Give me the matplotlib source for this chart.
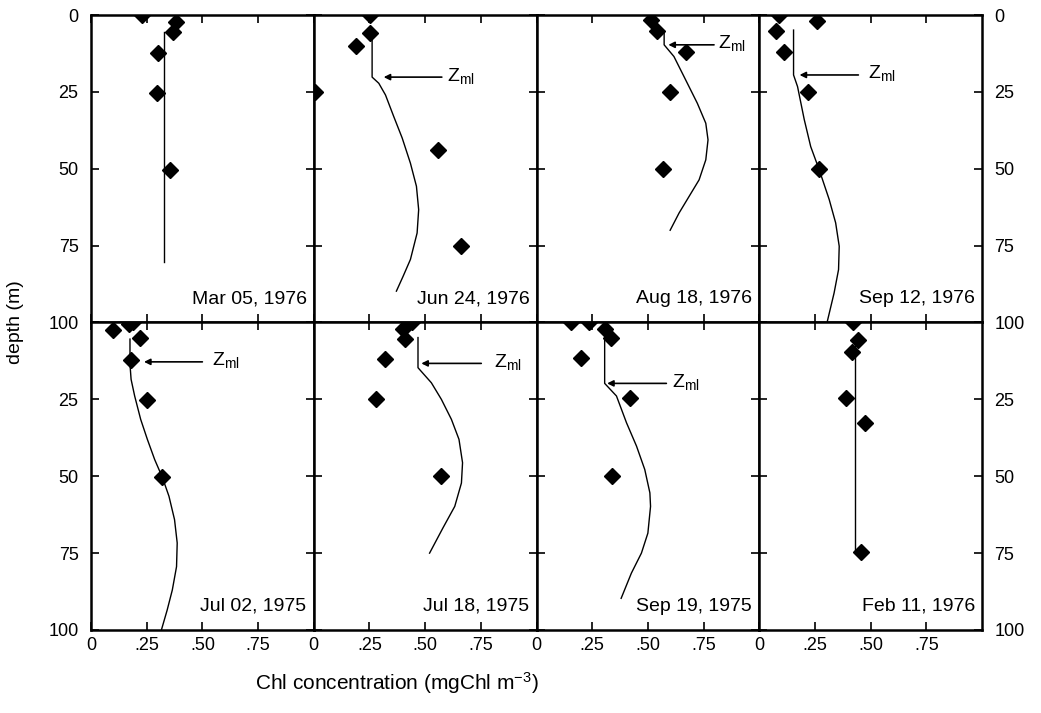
import matplotlib
matplotlib.use("Agg")
import matplotlib.pyplot as plt

plt.rcParams['font.family'] = ['Liberation Sans', 'DejaVu Sans']
plt.rcParams['mathtext.default'] = 'regular'

# ---------------- data ----------------
dates = ["Mar 05, 1976", "Jun 24, 1976", "Aug 18, 1976", "Sep 12, 1976",
         "Jul 02, 1975", "Jul 18, 1975", "Sep 19, 1975", "Feb 11, 1976"]

obs_chl = [
    [0.23, 0.38, 0.37, 0.30, 0.295, 0.354],
    [0.254, 0.251, 0.19, 0.005, 0.557, 0.66],
    [0.513, 0.54, 0.67, 0.60, 0.567],
    [0.09, 0.26, 0.075, 0.11, 0.22, 0.27],
    [0.10, 0.17, 0.19, 0.22, 0.178, 0.25, 0.32],
    [0.44, 0.40, 0.41, 0.32, 0.28, 0.57],
    [0.157, 0.236, 0.306, 0.336, 0.20, 0.42, 0.34],
    [0.42, 0.445, 0.415, 0.39, 0.475, 0.455],
]
obs_depth = [
    [0, 2.2, 5.4, 12.2, 25.4, 50.5],
    [0, 6, 10, 25, 44, 75.2],
    [1.6, 5.1, 11.9, 25.1, 50.1],
    [0, 1.8, 5.1, 11.9, 25.1, 50.1],
    [2.4, 0.5, 0, 5.2, 12.2, 25.2, 50.3],
    [0, 2, 5.3, 12, 24.8, 50],
    [0, 0, 2, 4.9, 11.7, 24.7, 49.8],
    [0, 5.6, 9.5, 24.4, 32.6, 74.7],
]
model_chl = [
    [0.327, 0.327],
    [0.262, 0.262, 0.292, 0.322, 0.359, 0.397, 0.434, 0.461, 0.471, 0.464,
     0.434, 0.401, 0.371],
    [0.573, 0.573, 0.617, 0.662, 0.722, 0.76, 0.77, 0.76, 0.73, 0.685,
     0.64, 0.60],
    [0.154, 0.154, 0.172, 0.202, 0.231, 0.269, 0.314, 0.343, 0.359, 0.356,
     0.336, 0.306],
    [0.175, 0.175, 0.18, 0.196, 0.223, 0.253, 0.286, 0.32, 0.35, 0.375,
     0.387, 0.384, 0.365, 0.342, 0.316],
    [0.468, 0.468, 0.528, 0.573, 0.618, 0.652, 0.668, 0.663, 0.633, 0.58,
     0.52],
    [0.306, 0.306, 0.359, 0.404, 0.449, 0.486, 0.509, 0.512, 0.50, 0.471,
     0.426, 0.38],
    [0.43, 0.43],
]
model_depth = [
    [5.4, 80.4],
    [6, 20.2, 22.2, 26, 33, 40, 48.2, 55.7, 63.3, 70.9, 79.5, 85, 89.8],
    [5.4, 9.7, 13.5, 20, 28.7, 35.2, 40.6, 47.1, 53.6, 59, 64.4, 70],
    [4.9, 19.5, 23.3, 34, 42.8, 50.3, 60, 67.6, 75.2, 82.8, 90.4, 99.5],
    [5.4, 13.6, 18.5, 23.9, 31.5, 38, 44.6, 50.3, 56.5, 64.1, 71.7, 79.4,
     87, 93.5, 100],
    [4.9, 14.7, 19.6, 25, 31.5, 38, 45.6, 52.2, 59.8, 66.8, 75],
    [5.2, 19.8, 23.9, 32.6, 40.2, 47.8, 55.4, 59.8, 68.5, 75, 81.5, 89.7],
    [6.5, 74.5],
]
# mixed layer depth (None = not marked)
zml_depth = [None, 20.2, 9.7, 19.5, 12.8, 13.3, 19.8, None]

depth_ticks = [0, 25, 50, 75, 100]
chl_ticks = [0, 0.25, 0.50, 0.75]
chl_ticklabels = ["0", ".25", ".50", ".75"]

# ---------------- layout (annotation placement) ----------------
arrow_head_x = [None, 0.314, 0.592, 0.181, 0.238, 0.483, 0.317, None]
arrow_tail_x = [None, 0.575, 0.797, 0.445, 0.50, 0.752, 0.583, None]
zml_text_x = [None, 0.60, 0.815, 0.49, 0.545, 0.81, 0.61, None]

W, H = 1041, 713
fig = plt.figure(figsize=(W / 100, H / 100), dpi=100)
fig.subplots_adjust(left=91 / W, right=982 / W, top=1 - 15 / H,
                    bottom=1 - 630 / H, wspace=0, hspace=0)
axes = fig.subplots(2, 4)

FS = 13
for i, ax in enumerate(axes.flat):
    row, col = divmod(i, 4)
    ax.plot(model_chl[i], model_depth[i], color='black', lw=1.0, zorder=2)
    ax.plot(obs_chl[i], obs_depth[i], linestyle='none', marker='D',
            color='black', markersize=8, zorder=3, clip_on=True)
    ax.set_xlim(0, 1.0)
    ax.set_ylim(100, 0)
    ax.set_xticks(chl_ticks)
    ax.set_yticks(depth_ticks)
    ax.tick_params(axis='both', which='both', direction='in', length=6,
                   width=1.2, top=True, bottom=True, left=True, right=True,
                   labelsize=FS)
    ax.tick_params(axis='y', pad=9)
    ax.tick_params(axis='x', pad=5)
    for s in ax.spines.values():
        s.set_linewidth(1.8)
        s.set_zorder(5)

    if row == 1:
        ax.set_xticklabels(chl_ticklabels)
    else:
        ax.set_xticklabels([])

    ylabels = [str(t) for t in depth_ticks]
    if row == 1:
        ylabels[0] = ""
    ax.set_yticklabels(ylabels)
    ax.tick_params(axis='y', labelleft=(col == 0), labelright=(col == 3))

    ax.text(0.968, 0.05, dates[i], transform=ax.transAxes, ha='right',
            va='bottom', fontsize=14)

    if zml_depth[i] is not None:
        ax.annotate('', xy=(arrow_head_x[i], zml_depth[i]),
                    xytext=(arrow_tail_x[i], zml_depth[i]),
                    arrowprops=dict(arrowstyle='-|>', lw=1.2, color='black',
                                    mutation_scale=9, shrinkA=0, shrinkB=0))
        ax.text(zml_text_x[i], zml_depth[i] - 0.5, r'Z$_{ml}$', ha='left',
                va='center', fontsize=FS + 1)

fig.text(15 / W, 1 - 322 / H, 'depth (m)', rotation=90, ha='center',
         va='center', fontsize=14)
fig.text(397 / W, 1 - 683 / H, r'Chl concentration (mgChl m$^{-3}$)',
         ha='center', va='center', fontsize=15)

fig.savefig('out.png', dpi=100)
